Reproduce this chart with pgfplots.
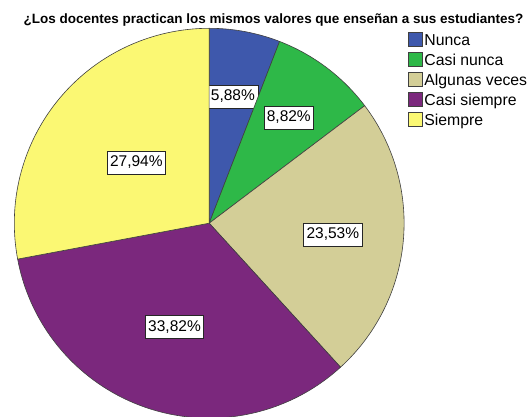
\documentclass[border=0pt]{standalone}
\usepackage{fontspec}
\setmainfont{Liberation Sans}
\usepackage{pgfplots}
\usepackage{pgfplotstable}
\pgfplotsset{compat=1.18}

\definecolor{pie0}{HTML}{3E58AC}
\definecolor{pie1}{HTML}{2EB848}
\definecolor{pie2}{HTML}{D3CE97}
\definecolor{pie3}{HTML}{7B287D}
\definecolor{pie4}{HTML}{FBF873}
\definecolor{pieline}{HTML}{404040}

% percentages, clockwise from 12 o'clock; dist = label distance (fraction of radius)
\pgfplotstableread[col sep=comma]{
cat,val,dist
Nunca,5.88,0.661
Casi nunca,8.82,0.678
Algunas veces,23.53,0.637
Casi siempre,33.82,0.561
Siempre,27.94,0.486
}\piedata

\begin{document}
\begin{tikzpicture}[
    lbl/.style={draw=black!85, fill=white, line width=0.6pt,
        font=\fontsize{15.5}{18}\selectfont, text height=11pt, text depth=2.5pt,
        inner xsep=3pt, inner ysep=4.5pt}]
\useasboundingbox (0,0) rectangle (532pt,417pt);
\node[anchor=base, font=\bfseries\fontsize{13.5}{16}\selectfont] at (273.5pt,393pt)
  {¿Los docentes practican los mismos valores que enseñan a sus estudiantes?};
\begin{axis}[
    at={(209.2pt,193.8pt)}, anchor=center,
    width=389.8pt, height=389.8pt, scale only axis,
    xmin=-1, xmax=1, ymin=-1, ymax=1,
    hide axis, clip=false, no markers,
    /pgf/number format/assume math mode=true,
    legend image code/.code={\draw[#1, draw=pieline, line width=0.6pt] (0pt,-6pt) rectangle (14.5pt,8pt);},
    legend style={at={(axis description cs:1.009,0.99)}, anchor=north west,
        draw=none, fill=none, inner sep=0pt,
        font=\fontsize{15.8}{18}\selectfont, row sep=4.3pt,
        nodes={inner xsep=1.5pt, inner ysep=1pt},
        cells={anchor=west}},
]
\pgfmathsetmacro\cum{0}
\pgfplotsforeachungrouped \i in {0,...,4}{
  \pgfplotstablegetelem{\i}{val}\of\piedata \let\v\pgfplotsretval
  \pgfplotstablegetelem{\i}{dist}\of\piedata \let\d\pgfplotsretval
  \pgfplotstablegetelem{\i}{cat}\of\piedata \let\c\pgfplotsretval
  \pgfmathsetmacro\a{90-3.6*\cum}
  \pgfmathsetmacro\b{90-3.6*(\cum+\v)}
  \pgfmathsetmacro\m{(\a+\b)/2}
  \pgfmathsetmacro\lx{\d*cos(\m)}
  \pgfmathsetmacro\ly{\d*sin(\m)}
  \edef\temp{\noexpand\addplot[fill=pie\i, draw=pieline, line width=0.6pt,
      domain=\b:\a, samples=100] ({cos(x)},{sin(x)}) -- (axis cs:0,0) -- cycle;
    \noexpand\addlegendentry{\c}
    \noexpand\node[lbl] at (axis cs:\lx,\ly)
      {\noexpand\pgfmathprintnumber[fixed,fixed zerofill,precision=2,use comma,assume math mode=true]{\v}\noexpand\%};}
  \temp
  \pgfmathsetmacro\cum{\cum+\v}
}
\end{axis}
\end{tikzpicture}
\end{document}
